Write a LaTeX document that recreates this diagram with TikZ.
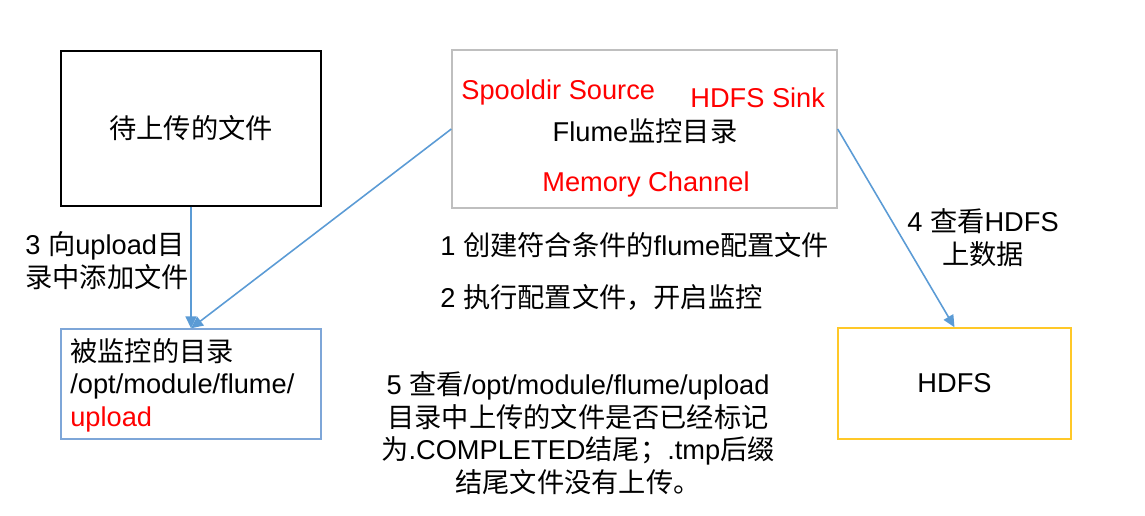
\documentclass[tikz,border=0pt]{standalone}
\usepackage{fontspec}
\setmainfont{Liberation Sans}
\newfontfamily\cjk{Noto Sans CJK SC}
\usetikzlibrary{arrows.meta}
\definecolor{flowblue}{RGB}{91,155,213}
\definecolor{dirblue}{RGB}{126,166,216}
\definecolor{boxgrey}{RGB}{191,191,191}
\definecolor{hdfsgold}{RGB}{255,200,40}
\newcommand\zh[1]{{\cjk #1}}

\begin{document}
\begin{tikzpicture}[
      x=0.02cm, y=-0.02cm,
      every node/.style={font=\fontsize{15.5}{18.5}\selectfont, inner sep=0pt},
      box/.style={rectangle, draw, line width=0.8pt, minimum width=5.2cm, minimum height=3.1cm},
      note/.style={anchor=west, align=left},
      red/.style={text=red},
      arr/.style={-{Triangle[length=2.4mm, width=2.2mm]}, line width=0.9pt, draw=flowblue},
    ]
    \useasboundingbox (0,0) rectangle (1145,516);

    % boxes
    \node[box, draw=black] (upload) at (191,128.5) {\zh{待上传的文件}};
    \node[box, draw=boxgrey, minimum width=7.7cm, minimum height=3.16cm] (flume) at (644.5,129) {};
    \node[box, draw=dirblue, minimum height=2.2cm] (watched) at (191,384) {};
    \node[box, draw=hdfsgold, minimum width=4.66cm, minimum height=2.22cm] (hdfs) at (954.5,383.5) {HDFS};

    % inside the flume box
    \node[red, anchor=west] (source) at (461,92) {Spooldir Source};
    \node[red, anchor=west] (sink) at (690,98) {HDFS Sink};
    \node (flumetitle) at (645,131) {Flume\zh{监控目录}};
    \node[red] (channel) at (646,184) {Memory Channel};

    % inside the watched box
    \node[note, align=left] (dirtext) at (70,385) {\zh{被监控的目录}\\/opt/module/flume/\\\textcolor{red}{upload}};

    % step notes
    \node[note] (step3) at (25,260.5) {3 \zh{向}upload\zh{目}\\\zh{录中添加文件}};
    \node[note] (step1) at (440,245) {1 \zh{创建符合条件的}flume\zh{配置文件}};
    \node[note] (step2) at (440,297) {2 \zh{执行配置文件，开启监控}};
    \node[align=center] (step4) at (983,237.5) {4 \zh{查看}HDFS\\\zh{上数据}};
    \node[align=center] (step5) at (578,433) {5 \zh{查看}/opt/module/flume/upload\\\zh{目录中上传的文件是否已经标记}\\\zh{为}.COMPLETED\zh{结尾；}.tmp\zh{后缀}\\\zh{结尾文件没有上传。}};

    \draw[arr] (upload.south) -- (watched.north);
    \draw[arr] (flume.west) -- (watched.north);
    \draw[arr] (flume.east) -- (hdfs.north);
  \end{tikzpicture}
\end{document}
